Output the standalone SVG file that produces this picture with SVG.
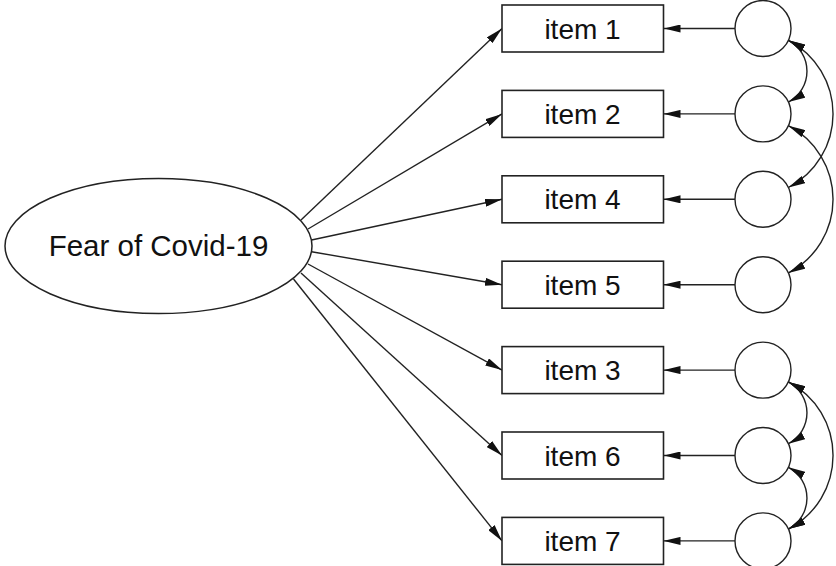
<svg xmlns="http://www.w3.org/2000/svg" width="836" height="566" viewBox="0 0 836 566">
<defs>
<marker id="ah" viewBox="0 0 17 8" refX="17" refY="4" markerWidth="17" markerHeight="8" markerUnits="userSpaceOnUse" orient="auto-start-reverse">
<path d="M0,0 L17,4 L0,8 Z" fill="#111"/>
</marker>
<style>
.box{fill:#fff;stroke:#222;stroke-width:1.6}
.err{fill:#fff;stroke:#222;stroke-width:1.4}
.lat{fill:#fff;stroke:#222;stroke-width:1.5}
.t{font-family:"Liberation Sans",Arial,sans-serif;font-size:28px;fill:#111;text-anchor:middle}
.tl{font-family:"Liberation Sans",Arial,sans-serif;font-size:29.5px;fill:#111;text-anchor:middle}
.a{fill:none;stroke:#222;stroke-width:1.4;marker-end:url(#ah)}
.d{fill:none;stroke:#222;stroke-width:1.4;marker-start:url(#ah);marker-end:url(#ah)}
</style>
</defs>
<rect width="836" height="566" fill="#fff"/>
<g id="connectors">
<line class="a" x1="301" y1="220" x2="502" y2="28.5"/>
<line class="a" x1="308" y1="229" x2="502" y2="113.9"/>
<line class="a" x1="311.5" y1="240" x2="502" y2="199.3"/>
<line class="a" x1="311.5" y1="251.7" x2="502" y2="284.7"/>
<line class="a" x1="308" y1="264" x2="502" y2="370.1"/>
<line class="a" x1="301" y1="273" x2="502" y2="455.5"/>
<line class="a" x1="293.5" y1="279" x2="502" y2="540.9"/>
<line class="a" x1="735" y1="28.5" x2="663.5" y2="28.5"/>
<line class="a" x1="735" y1="113.9" x2="663.5" y2="113.9"/>
<line class="a" x1="735" y1="199.3" x2="663.5" y2="199.3"/>
<line class="a" x1="735" y1="284.7" x2="663.5" y2="284.7"/>
<line class="a" x1="735" y1="370.1" x2="663.5" y2="370.1"/>
<line class="a" x1="735" y1="455.5" x2="663.5" y2="455.5"/>
<line class="a" x1="735" y1="540.9" x2="663.5" y2="540.9"/>
<path class="d" d="M788.4,40.3 A35,35 0 0 1 788.4,102.1"/>
<path class="d" d="M788.4,40.3 A83,83 0 0 1 788.4,187.5"/>
<path class="d" d="M788.4,125.7 A83,83 0 0 1 788.4,272.9"/>
<path class="d" d="M788.4,381.9 A35,35 0 0 1 788.4,443.7"/>
<path class="d" d="M788.4,467.3 A35,35 0 0 1 788.4,529.1"/>
<path class="d" d="M788.4,381.9 A83,83 0 0 1 788.4,529.1"/>
</g>
<g id="latent">
<ellipse class="lat" cx="158.5" cy="246" rx="153.5" ry="67.5"/>
<text class="tl" x="158.5" y="256">Fear of Covid-19</text>
</g>
<g id="item1"><rect class="box" x="502" y="5" width="161.5" height="47"/><text class="t" x="582.5" y="38.5">item 1</text></g>
<g id="item2"><rect class="box" x="502" y="90.4" width="161.5" height="47"/><text class="t" x="582.5" y="123.9">item 2</text></g>
<g id="item4"><rect class="box" x="502" y="175.8" width="161.5" height="47"/><text class="t" x="582.5" y="209.3">item 4</text></g>
<g id="item5"><rect class="box" x="502" y="261.2" width="161.5" height="47"/><text class="t" x="582.5" y="294.7">item 5</text></g>
<g id="item3"><rect class="box" x="502" y="346.6" width="161.5" height="47"/><text class="t" x="582.5" y="380.1">item 3</text></g>
<g id="item6"><rect class="box" x="502" y="432" width="161.5" height="47"/><text class="t" x="582.5" y="465.5">item 6</text></g>
<g id="item7"><rect class="box" x="502" y="517.4" width="161.5" height="47"/><text class="t" x="582.5" y="550.9">item 7</text></g>
<g id="e1"><circle class="err" cx="763" cy="28.5" r="28"/></g>
<g id="e2"><circle class="err" cx="763" cy="113.9" r="28"/></g>
<g id="e4"><circle class="err" cx="763" cy="199.3" r="28"/></g>
<g id="e5"><circle class="err" cx="763" cy="284.7" r="28"/></g>
<g id="e3"><circle class="err" cx="763" cy="370.1" r="28"/></g>
<g id="e6"><circle class="err" cx="763" cy="455.5" r="28"/></g>
<g id="e7"><circle class="err" cx="763" cy="540.9" r="28"/></g>
</svg>
